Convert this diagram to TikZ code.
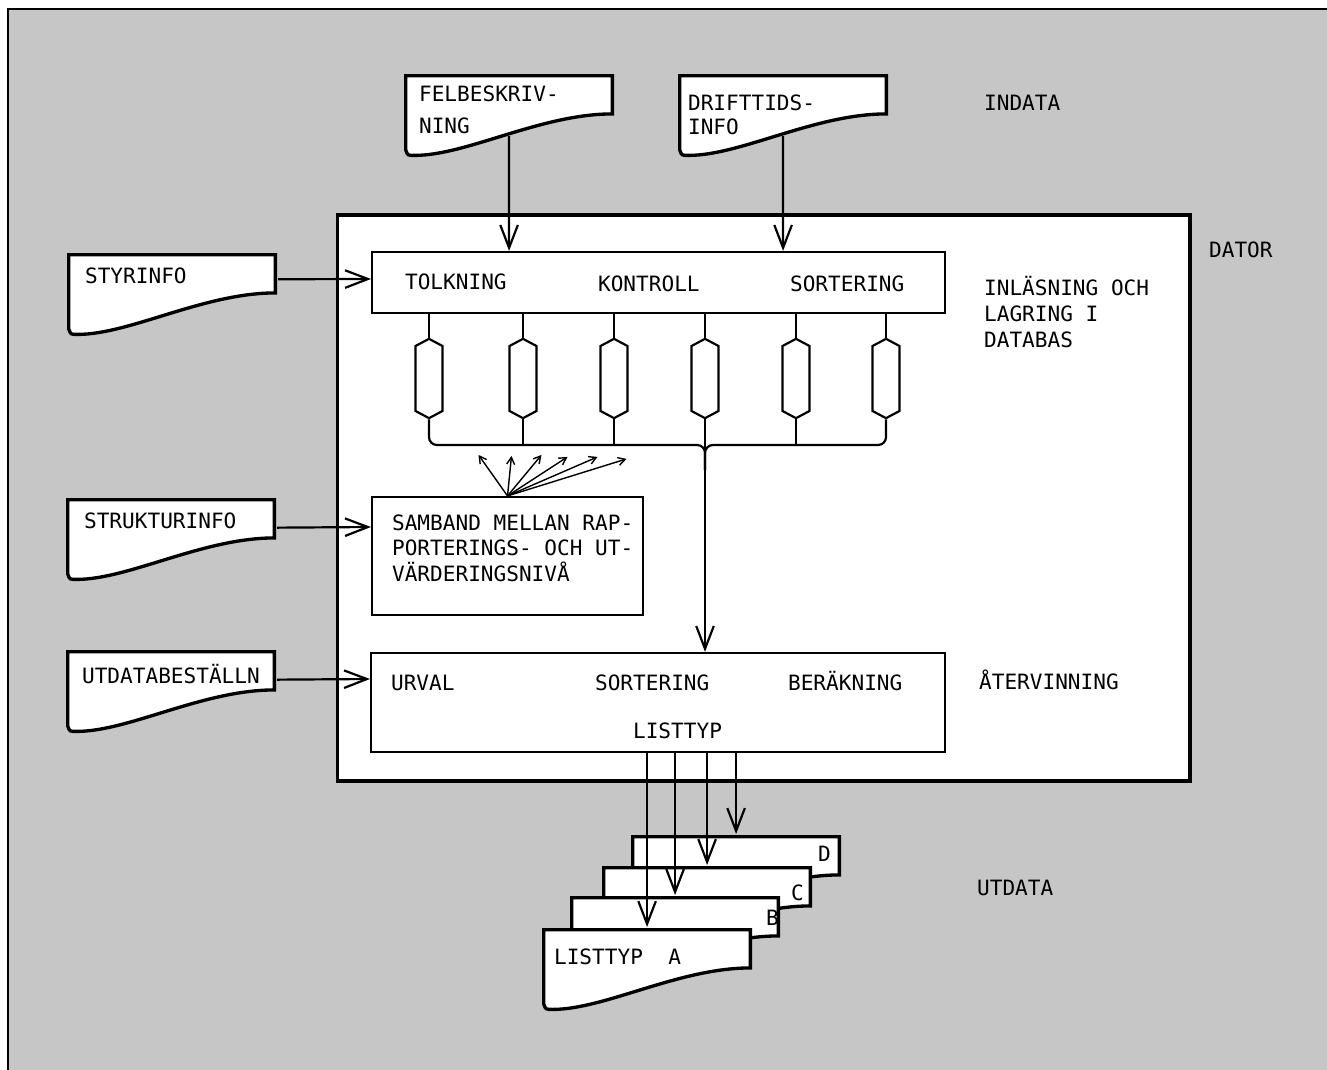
\documentclass[tikz,border=0pt]{standalone}
\usepackage{fontspec}
\setmonofont{DejaVu Sans Mono}
\usetikzlibrary{arrows.meta,calc,shapes.symbols}
\definecolor{paper}{RGB}{198,198,198}
\tikzset{
  txt/.style={font=\ttfamily\fontsize{12}{14.5}\selectfont, inner sep=0pt, anchor=base west, align=left},
  box/.style={draw, fill=white, rectangle, inner sep=0pt},
  docshape/.style={rectangle, inner sep=0pt, anchor=north west,
    minimum width=4.2cm, minimum height=1.66cm,
    path picture={
      \draw[line width=1.9pt, fill=white]
        let \p1=(path picture bounding box.north west),
            \p2=(path picture bounding box.south east) in
        (\x1+.95pt,\y1-.95pt) -- (\x2-.95pt,\y1-.95pt)
        -- (\x2-.95pt,{\y1-.48*(\y1-\y2)})
        .. controls ({\x2-.35*(\x2-\x1)},{\y1-.48*(\y1-\y2)})
               and ({\x1+.3*(\x2-\x1)},\y2+.95pt) .. (\x1+6pt,\y2+.95pt)
        .. controls (\x1+2pt,\y2+.95pt) .. (\x1+.95pt,\y2+4pt) -- cycle;
    }},
  hexa/.style={signal, signal to=north and south, signal pointer angle=124,
    draw, fill=white, minimum width=.54cm, minimum height=1.3cm, inner sep=0pt},
  fan/.style={-{Straight Barb[length=4pt,width=4.5pt]}, line width=.8pt},
}
\begin{document}
\begin{tikzpicture}[x=0.02cm, y=-0.02cm, line width=1.25pt,
  >={Straight Barb[length=13pt,width=10pt]}]
\useasboundingbox (0,0) rectangle (1327,1070);
\fill[paper] (8,9) rectangle (1327,1070);
\draw[line width=1.4pt] (8,1070) -- (8,9) -- (1327,9);

% computer
\node[box, line width=1.8pt, minimum width=17.06cm, minimum height=11.32cm] (dator) at (763.5,498) {};
\node[txt] (datort) at (1208,258) {DATOR};

% input documents (base of a text = its last line)
\node[docshape] (felb) at (403,73) {};
\node[txt, font=\ttfamily\fontsize{12}{18.7}\selectfont] (felbt) at (418,134) {FELBESKRIV-\\NING};
\node[docshape] (drift) at (677,73) {};
\node[txt, font=\ttfamily\fontsize{12}{14.2}\selectfont] (driftt) at (687,135) {DRIFTTIDS-\\INFO};
\node[txt] (indata) at (983,111) {INDATA};
\node[docshape] (styr) at (66,252) {};
\node[txt] (styrt) at (84,284) {STYRINFO};
\node[docshape] (strukt) at (65,497) {};
\node[txt] (struktt) at (83,528) {STRUKTURINFO};
\node[docshape] (utbest) at (65,649) {};
\node[txt] (utbestt) at (81,683) {UTDATABESTÄLLN};

% reading and storing
\node[box, minimum width=11.46cm, minimum height=1.22cm] (inlas) at (658.5,282.5) {};
\node[txt] (tolk) at (404,290) {TOLKNING};
\node[txt] (kontr) at (597,292) {KONTROLL};
\node[txt] (sort1) at (789,292) {SORTERING};
\node[txt, font=\ttfamily\fontsize{12}{15}\selectfont] (inlast) at (983,348) {INLÄSNING OCH\\LAGRING I\\DATABAS};

\draw[->] ($(felb.north)!.74!(felb.south)$) -- (felb.south |- inlas.north);
\draw[->] ($(drift.north)!.74!(drift.south)$) -- (drift.south |- inlas.north);
\draw[->] ($(styr.north east)!.32!(styr.south east)$) -- (inlas.west |- 0,279);

% data base
\foreach \i/\x in {1/429,2/523,3/614,4/705,5/796,6/886}{
  \node[hexa] (h\i) at (\x,378.5) {};
  \draw (inlas.south -| h\i.north) -- (h\i.north);
}
\coordinate (bus) at (705,445);
\draw[rounded corners=4.5pt] (h1.south) |- (bus) -- ++(0,25);
\draw[rounded corners=4.5pt] (h6.south) |- (bus) -- ++(0,25);
\foreach \i in {2,3,5} \draw (h\i.south) -- (h\i.south |- bus);

% structure
\node[box, minimum width=5.42cm, minimum height=2.36cm] (samband) at (507.5,556) {};
\node[txt] (sambandt) at (391,581) {SAMBAND MELLAN RAP-\\PORTERINGS- OCH UT-\\VÄRDERINGSNIVÅ};
\foreach \dx/\dy in {-29/-41,4/-40,34/-41,60/-39,90/-39,119/-37}
  \draw[fan] (samband.north) -- ++(\dx,\dy);
\draw[->] ($(strukt.north east)!.36!(strukt.south east)$) -- (samband.west |- 0,527);

% retrieval
\node[box, minimum width=11.48cm, minimum height=1.98cm] (aterv) at (658,702.5) {};
\node[txt] (urval) at (390,690) {URVAL};
\node[txt] (sort2) at (594,690) {SORTERING};
\node[txt] (berak) at (787,690) {BERÄKNING};
\node[txt] (listtyp) at (632,738) {LISTTYP};
\node[txt] (atervt) at (978,689) {ÅTERVINNING};
\draw[->] (h4.south) -- (h4.south |- aterv.north);
\draw[->] ($(utbest.north east)!.36!(utbest.south east)$) -- (aterv.west |- 0,679);

% output lists
\node[docshape] (listD) at (630,834) {};
\node[docshape] (listC) at (601,865) {};
\node[docshape] (listB) at (569,895) {};
\node[docshape] (listA) at (541,927) {};
\foreach \l in {listA,listB,listC,listD}
  \draw[->] (aterv.south -| \l.north) -- (\l.north);
\node[txt] (dt) at (817,861) {D};
\node[txt] (ct) at (790,900) {C};
\node[txt] (bt) at (765,925) {B};
\node[txt] (at) at (553,964) {LISTTYP~~A};
\node[txt] (utdata) at (976,895) {UTDATA};
\end{tikzpicture}
\end{document}
